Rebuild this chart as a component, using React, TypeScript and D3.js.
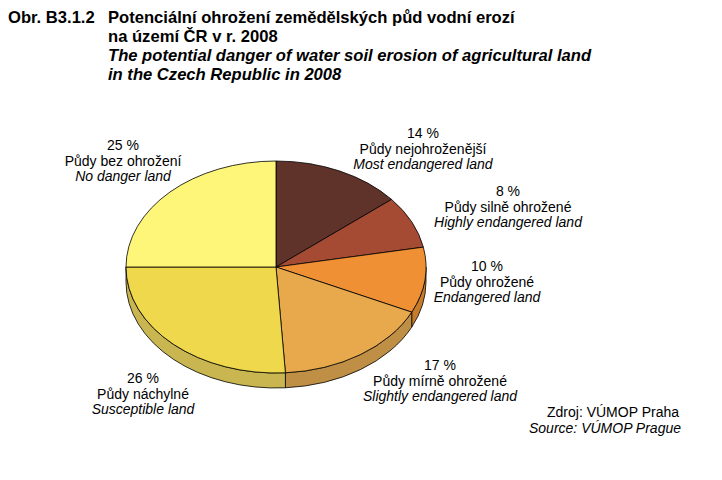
import React from "react";
import * as d3 from "d3";

const values = [14, 8, 10, 17, 26, 25];
const percentLabels = ["14 %", "8 %", "10 %", "17 %", "26 %", "25 %"];
const czechLabels = [
  "Půdy nejohroženější",
  "Půdy silně ohrožené",
  "Půdy ohrožené",
  "Půdy mírně ohrožené",
  "Půdy náchylné",
  "Půdy bez ohrožení",
];
const englishLabels = [
  "Most endangered land",
  "Highly endangered land",
  "Endangered land",
  "Slightly endangered land",
  "Susceptible land",
  "No danger land",
];
const topColors = ["#5F322A", "#A54A33", "#EE9033", "#E8A94C", "#F0D84C", "#FEF679"];
const sideColors = ["#4A2620", "#843A28", "#C77C2B", "#BE8F45", "#C9B650", "#D2CA60"];
const labelPos: [number, number][] = [
  [423, 133],
  [508, 191],
  [487, 266],
  [440, 365],
  [143, 378],
  [123, 145],
];

const titleNo = "Obr. B3.1.2";
const titleCz1 = "Potenciální ohrožení zemědělských půd vodní erozí";
const titleCz2 = "na území ČR v r. 2008";
const titleEn1 = "The potential danger of water soil erosion of agricultural land";
const titleEn2 = "in the Czech Republic in 2008";

export default function App() {
  const cx = 276;
  const cy = 267;
  const rx = 150;
  const ry = 106;
  const depth = 15;
  const font = "'Liberation Sans', Arial, Helvetica, sans-serif";

  const pie = d3.pie<number>().sort(null).value((d) => d);
  const arcs = pie(values);

  const pt = (a: number, dy = 0): [number, number] => [
    cx + rx * Math.sin(a),
    cy - ry * Math.cos(a) + dy,
  ];

  const topPath = (a0: number, a1: number) => {
    const p0 = pt(a0);
    const p1 = pt(a1);
    const large = a1 - a0 > Math.PI ? 1 : 0;
    return `M${cx},${cy}L${p0[0]},${p0[1]}A${rx},${ry} 0 ${large} 1 ${p1[0]},${p1[1]}Z`;
  };

  const sidePath = (a0: number, a1: number) => {
    const s = Math.max(a0, Math.PI / 2);
    const e = Math.min(a1, (3 * Math.PI) / 2);
    if (s >= e) return null;
    const p0 = pt(s);
    const p1 = pt(e);
    const q1 = pt(e, depth);
    const q0 = pt(s, depth);
    const large = e - s > Math.PI ? 1 : 0;
    return `M${p0[0]},${p0[1]}A${rx},${ry} 0 ${large} 1 ${p1[0]},${p1[1]}L${q1[0]},${q1[1]}A${rx},${ry} 0 ${large} 0 ${q0[0]},${q0[1]}Z`;
  };

  return (
    <svg
      width={722}
      height={480}
      style={{ position: "absolute", left: 0, top: 0, background: "#fff" }}
    >
      <g fontFamily={font} fontWeight="bold" fontSize={16.6} fill="#000">
        <text x={8} y={23}>{titleNo}</text>
        <text x={108} y={23}>{titleCz1}</text>
        <text x={108} y={42}>{titleCz2}</text>
        <text x={108} y={61} fontStyle="italic">{titleEn1}</text>
        <text x={108} y={80} fontStyle="italic">{titleEn2}</text>
      </g>

      <g stroke="#000" strokeWidth={0.8} strokeLinejoin="round">
        {arcs.map((a, i) => {
          const d = sidePath(a.startAngle, a.endAngle);
          return d ? <path key={"s" + i} d={d} fill={sideColors[i]} /> : null;
        })}
        {arcs.map((a, i) => (
          <path key={"t" + i} d={topPath(a.startAngle, a.endAngle)} fill={topColors[i]} />
        ))}
      </g>

      <g fontFamily={font} fontSize={14} fill="#000" textAnchor="middle">
        {labelPos.map(([x, y], i) => (
          <g key={"l" + i}>
            <text x={x} y={y + 5}>{percentLabels[i]}</text>
            <text x={x} y={y + 20.5}>{czechLabels[i]}</text>
            <text x={x} y={y + 36} fontStyle="italic">{englishLabels[i]}</text>
          </g>
        ))}
      </g>

      <g fontFamily={font} fontSize={14} fill="#000" textAnchor="end">
        <text x={679} y={417}>Zdroj: VÚMOP Praha</text>
        <text x={681} y={433}>
          <tspan fontStyle="italic">Source: VÚMOP Prague</tspan>
        </text>
      </g>
    </svg>
  );
}
